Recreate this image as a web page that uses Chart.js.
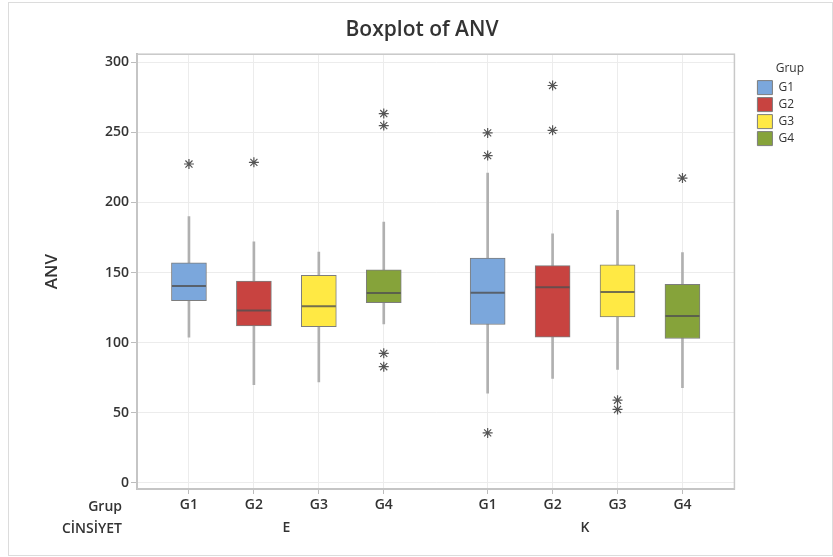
<!DOCTYPE html>
<html lang="tr">
<head>
<meta charset="UTF-8">
<script src="https://cdn.jsdelivr.net/npm/chart.js"></script>
<style>
  body { margin: 0; background: #fff; }
  #wrap { width: 833px; height: 557px; }
</style>
</head>
<body>
<div id="wrap"><canvas id="myChart" width="833" height="557"></canvas></div>
<script>
// values, each inner pair is [E, K]
const groups = ['G1', 'G2', 'G3', 'G4']
const sexes = ['E', 'K']
const yTicks = [0, 50, 100, 150, 200, 250, 300]
const whiskerLow = [[104, 64], [70, 74.6], [72, 81], [113.4, 68]]
const q1 = [[130, 113], [112, 104], [111.4, 118.4], [128.6, 103]]
const median = [[140.5, 135.7], [123, 139.6], [126, 136.2], [135.5, 119]]
const q3 = [[157, 160.3], [144, 155], [148, 155.5], [152, 141.7]]
const whiskerHigh = [[190, 221], [172, 177.6], [164.6, 194.3], [186, 164.3]]
const outliers = [
  [[227.4], [249.6, 233.4, 35.7]],
  [[228.6], [283.4, 251.4]],
  [[], [59, 52.4]],
  [[263.4, 254.8, 92.4, 82.9], [217.4]]
]
const colors = ['#7BA7DC', '#C84340', '#FFE944', '#86A33A']

// x position of a box: groups side by side, extra gap between E and K
function pos(s, g) { return 1 + g + s * 4.6 }
const groupTicks = []
const sexTicks = []
sexes.forEach((s, si) => {
  groups.forEach((g, gi) => groupTicks.push(pos(si, gi)))
  sexTicks.push((pos(si, 0) + pos(si, groups.length - 1)) / 2)
})

const FONT = "'Open Sans', 'Noto Sans', sans-serif"
const datasets = []
groups.forEach((g, gi) => {
  datasets.push({
    type: 'bar', label: 'whisker', order: 4, grouped: false,
    data: sexes.map((s, si) => ({ x: pos(si, gi), y: [whiskerLow[gi][si], whiskerHigh[gi][si]] })),
    backgroundColor: '#b0b0b0', borderWidth: 0, barThickness: 2
  })
  datasets.push({
    type: 'bar', label: g, order: 3, grouped: false,
    data: sexes.map((s, si) => ({ x: pos(si, gi), y: [q1[gi][si], q3[gi][si]] })),
    backgroundColor: colors[gi], borderColor: '#7d7d7d', borderWidth: 1,
    borderSkipped: false, barThickness: 35
  })
  datasets.push({
    type: 'scatter', label: 'median', order: 2,
    data: sexes.map((s, si) => ({ x: pos(si, gi), y: median[gi][si] })),
    pointStyle: 'line', pointRadius: 17, pointBorderColor: 'rgba(80,80,80,0.8)', pointBorderWidth: 2
  })
  const pts = []
  sexes.forEach((s, si) => outliers[gi][si].forEach(v => pts.push({ x: pos(si, gi), y: v })))
  datasets.push({
    type: 'scatter', label: 'outlier', order: 1, data: pts,
    pointStyle: 'star', pointRadius: 5, pointBorderColor: '#555', pointBorderWidth: 1.2
  })
})

const frames = {
  id: 'frames',
  beforeDraw(chart) {
    const c = chart.ctx
    c.save()
    c.fillStyle = '#fff'
    c.fillRect(0, 0, chart.width, chart.height)
    c.strokeStyle = '#dcdcdc'
    c.lineWidth = 1
    c.strokeRect(8.5, 2.5, chart.width - 9, chart.height - 4)
    c.restore()
  },
  beforeDatasetsDraw(chart) {
    const a = chart.chartArea
    const c = chart.ctx
    c.save()
    c.strokeStyle = '#c8c8c8'
    c.lineWidth = 1.5
    c.strokeRect(a.left, a.top, a.right - a.left, a.bottom - a.top)
    c.restore()
  },
  afterDraw(chart) {
    const a = chart.chartArea
    const c = chart.ctx
    c.save()
    c.fillStyle = '#333'
    c.font = '600 14px ' + FONT
    c.textAlign = 'right'
    c.textBaseline = 'alphabetic'
    c.fillText('Grup', 122, a.bottom + 22)
    c.fillText('CİNSİYET', 122, a.bottom + 44)
    c.restore()
  }
}

new Chart(document.getElementById('myChart'), {
  type: 'bar',
  data: { datasets: datasets },
  plugins: [frames],
  options: {
    responsive: false,
    animation: false,
    layout: { padding: { left: 40, top: 4, right: 29, bottom: 4 } },
    plugins: {
      tooltip: { enabled: false },
      title: {
        display: true, text: 'Boxplot of ANV', color: '#333',
        font: { family: FONT, size: 21, weight: '600' },
        padding: { top: 13, bottom: 12 }
      },
      legend: {
        position: 'right', align: 'start', fullSize: false,
        title: {
          display: true, text: 'Grup', position: 'end', color: '#333',
          font: { family: FONT, size: 12 }, padding: { top: 8, bottom: 1 }
        },
        labels: {
          boxWidth: 15, boxHeight: 14, padding: 3, color: '#333',
          font: { family: FONT, size: 12 },
          filter: item => groups.includes(item.text)
        }
      }
    },
    scales: {
      x: {
        type: 'linear', min: 0.2, max: 9.4, offset: false, weight: 0,
        afterBuildTicks: s => { s.ticks = groupTicks.map(v => ({ value: v })) },
        afterFit: s => { s.height = 22 },
        ticks: {
          autoSkip: false, maxRotation: 0, padding: 3, color: '#333',
          font: { family: FONT, size: 14, weight: '600' },
          callback: (v, i) => groups[i % groups.length]
        },
        grid: { offset: false, color: '#ececec', tickLength: 5, tickColor: '#bdbdbd' },
        border: { color: '#bdbdbd', width: 2 }
      },
      x2: {
        type: 'linear', position: 'bottom', min: 0.2, max: 9.4, offset: false, weight: 1,
        afterBuildTicks: s => { s.ticks = sexTicks.map(v => ({ value: v })) },
        afterFit: s => { s.height = 42 },
        ticks: {
          autoSkip: false, maxRotation: 0, padding: 9, color: '#333',
          font: { family: FONT, size: 14, weight: '600' },
          callback: (v, i) => sexes[i]
        },
        grid: { display: false, drawTicks: false, offset: false },
        border: { display: false }
      },
      y: {
        min: -4.3, max: 305.7,
        afterBuildTicks: s => { s.ticks = yTicks.map(v => ({ value: v })) },
        afterFit: s => { s.width = 97 },
        ticks: { padding: 2, color: '#333', font: { family: FONT, size: 14, weight: '600' } },
        grid: { color: '#ececec', tickLength: 6, tickColor: '#bdbdbd' },
        border: { color: '#bdbdbd', width: 2 },
        title: {
          display: true, text: 'ANV', color: '#333',
          font: { family: FONT, size: 17, weight: '600' },
          padding: { top: 2, bottom: 0 }
        }
      },
      // empty right axis, only keeps the gap between plot and legend
      yGap: {
        position: 'right', min: 0, max: 1,
        afterFit: s => { s.width = 20 },
        ticks: { display: false },
        grid: { display: false, drawTicks: false },
        border: { display: false }
      }
    }
  }
})
</script>
</body>
</html>
